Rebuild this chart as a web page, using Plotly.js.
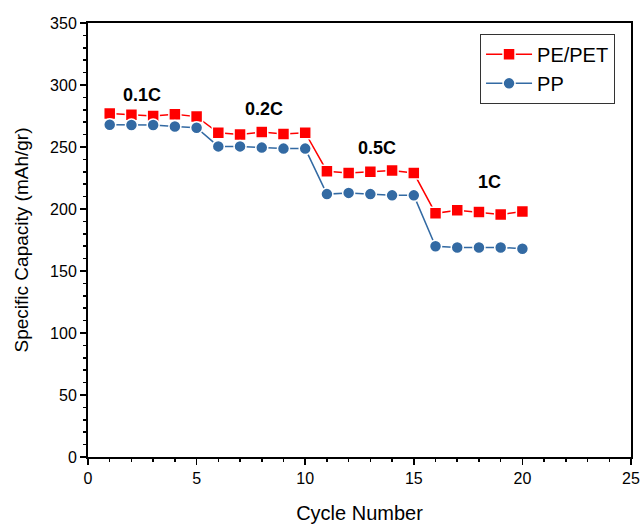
<!DOCTYPE html>
<html>
<head>
<meta charset="utf-8">
<script src="https://cdn.plot.ly/plotly-3.0.1.min.js"></script>
<style>html,body{margin:0;padding:0;background:#fff;}#chart{width:643px;height:525px;}</style>
</head>
<body>
<div id="chart"></div>
<script>
var cycles = [1,2,3,4,5,6,7,8,9,10,11,12,13,14,15,16,17,18,19,20];
var pePet = [277,276,275,276.5,274.5,261.5,260,262,260.5,261.5,230.5,229,230,231,229,196.5,199,197.5,195.5,198];
var pp = [268,267.7,267.7,266.5,265.5,250.5,250.5,249.5,248.7,248.7,212,213,212,211,211,170,169,169,169,168];
var rateLabels = ['0.1C','0.2C','0.5C','1C'];
var rateX = [2.5,8.1,13.3,18.5];
var rateY = [292,281,249,222];

var font = 'Liberation Sans, Arial, sans-serif';
var traces = [
  {x: cycles, y: pePet, name: 'PE/PET', mode: 'lines+markers', type: 'scatter',
   line: {color: '#ff0000', width: 1.5},
   marker: {symbol: 'square', size: 12, color: '#ff0000', line: {color: '#ffffff', width: 1.5}}},
  {x: cycles, y: pp, name: 'PP', mode: 'lines+markers', type: 'scatter',
   line: {color: '#336aa3', width: 1.5},
   marker: {symbol: 'circle', size: 12, color: '#336aa3', line: {color: '#ffffff', width: 1.5}}}
];
var annotations = rateLabels.map(function(t, i){
  return {x: rateX[i], y: rateY[i], text: '<b>' + t + '</b>', showarrow: false,
          font: {family: font, size: 18, color: '#000'}, xref: 'x', yref: 'y'};
});
var axisCommon = {
  showline: true, linecolor: '#000', linewidth: 2, mirror: true,
  ticks: 'outside', ticklen: 6, tickwidth: 1.5, tickcolor: '#000',
  showgrid: false, zeroline: false,
  tickfont: {family: font, size: 16, color: '#000'}
};
var layout = {
  width: 643, height: 525,
  margin: {l: 88, r: 12, t: 23, b: 68},
  paper_bgcolor: '#fff', plot_bgcolor: '#fff',
  font: {family: font, color: '#000'},
  xaxis: Object.assign({}, axisCommon, {
    range: [0, 25], dtick: 5, tick0: 0,
    minor: {dtick: 1, ticks: 'outside', ticklen: 3, tickwidth: 1.5, tickcolor: '#000'},
    title: {text: 'Cycle Number', font: {family: font, size: 20, color: '#000'}, standoff: 20}
  }),
  yaxis: Object.assign({}, axisCommon, {
    range: [0, 350], dtick: 50, tick0: 0,
    minor: {dtick: 10, ticks: 'outside', ticklen: 3, tickwidth: 1.5, tickcolor: '#000'},
    title: {text: 'Specific Capacity (mAh/gr)', font: {family: font, size: 19, color: '#000'}, standoff: 16}
  }),
  legend: {x: 0.722, y: 0.975, xanchor: 'left', yanchor: 'top',
           bordercolor: '#333', borderwidth: 1, bgcolor: '#fff',
           itemwidth: 46, tracegroupgap: 0,
           font: {family: font, size: 20, color: '#000'}},
  annotations: annotations,
  showlegend: true
};
Plotly.newPlot('chart', traces, layout, {displayModeBar: false, staticPlot: true});
</script>
</body>
</html>
